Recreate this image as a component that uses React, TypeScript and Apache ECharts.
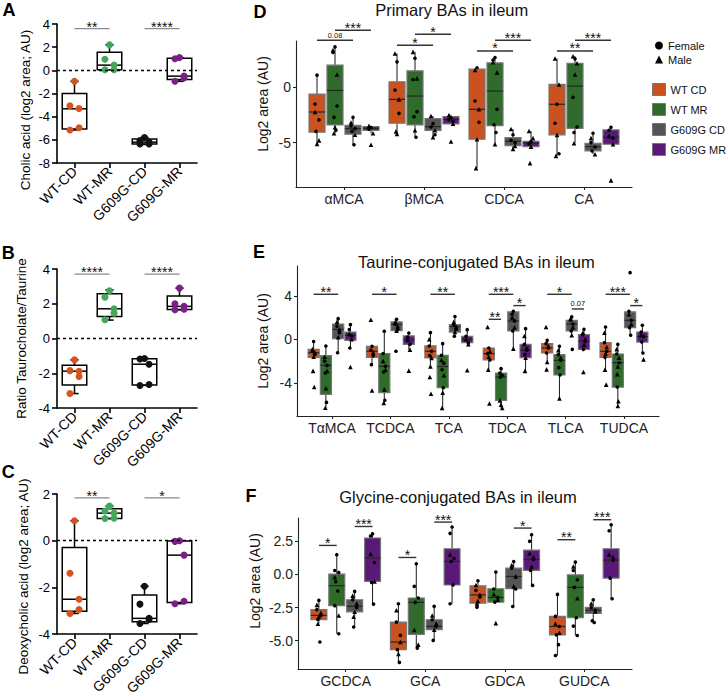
import React, { useEffect, useRef } from 'react';
import * as echarts from 'echarts';

const FONT = "'Liberation Sans', Arial, Helvetica, sans-serif";

// ---------------- Panels A–C ----------------
const abcGroups = ['WT-CD', 'WT-MR', 'G609G-CD', 'G609G-MR'];
const abcColors = ['#d6521f', '#46a65b', '#111111', '#7b1f88'];
const abcJitter = [0, -0.13, 0.13, 0.13, -0.13];

// box stats per group: [min, Q1, median, Q3, max]
const cholicBox = [
  [-5.15, -5.07, -3.32, -2.0, -0.95],
  [0.05, 0.05, 0.45, 1.56, 2.2],
  [-6.4, -6.35, -6.2, -5.93, -5.8],
  [-0.95, -0.8, -0.5, 1.05, 1.1],
];
const cholicPoints = [
  [-0.95, -3.05, -3.3, -4.95, -5.15],
  [2.2, 0.95, 0.45, 0.05, 0.05],
  [-5.8, -6.05, -6.2, -6.35, -6.35],
  [1.1, 1.0, -0.5, -0.65, -0.95],
];
const cholicSig = [[1, 2, 3.6, '**'], [3, 4, 3.6, '****']];

const ratioBox = [
  [-3.17, -2.68, -1.88, -1.54, -1.23],
  [1.06, 1.27, 1.71, 2.58, 2.8],
  [-2.7, -2.68, -1.48, -1.17, -1.15],
  [1.65, 1.67, 1.85, 2.45, 2.9],
];
const ratioPoints = [
  [-1.23, -1.85, -1.88, -2.19, -3.17],
  [2.75, 2.38, 1.71, 1.45, 1.08],
  [-1.15, -1.18, -1.48, -2.65, -2.7],
  [2.9, 2.0, 1.85, 1.68, 1.65],
];
const ratioSig = [[1, 2, 3.7, '****'], [3, 4, 3.7, '****']];

const deoxyBox = [
  [-3.12, -3.03, -2.51, -0.29, 0.85],
  [0.95, 0.95, 1.18, 1.37, 1.48],
  [-3.55, -3.47, -3.33, -2.33, -1.95],
  [-2.7, -2.65, -0.62, -0.01, 0.0],
];
const deoxyPoints = [
  [0.85, -1.4, -2.51, -2.95, -3.12],
  [1.48, 1.27, 1.18, 0.96, 0.95],
  [-1.95, -2.72, -3.33, -3.38, -3.55],
  [0.0, -0.03, -0.62, -2.6, -2.7],
];
const deoxySig = [[1, 2, 1.83, '**'], [3, 4, 1.83, '*']];

// ---------------- Panels D–F ----------------
const groupNames = ['WT CD', 'WT MR', 'G609G CD', 'G609G MR'];
const groupFill = ['#c9521f', '#2f6b2a', '#555555', '#5a1879'];
const jitterPattern = [0, -1, 1, -0.5, 0.5, -1, 1, 0, -0.5, 0.5];

// D: primary BAs  [group][category] = [min, Q1, median, Q3, max]
const primaryCats = ['αMCA', 'βMCA', 'CDCA', 'CA'];
const primaryBox = [
  [[-5.12, -4.07, -2.26, -0.66, 1.04], [-4.22, -3.27, -1.13, 0.45, 2.98], [-7.29, -4.7, -2.02, 1.58, 1.7], [-6.19, -4.31, -1.57, 0.21, 2.53]],
  [[-4.17, -3.42, -0.33, 1.94, 3.57], [-4.52, -3.42, -0.83, 1.43, 3.13], [-5.15, -3.48, -0.38, 2.14, 2.62], [-5.06, -3.72, 0.06, 2.09, 2.74]],
  [[-5.2, -4.25, -3.75, -3.45, -2.74], [-4.52, -3.9, -3.57, -2.86, -2.62], [-5.56, -5.27, -4.88, -4.55, -3.78], [-6.04, -5.74, -5.36, -5.06, -4.17]],
  [[-4.17, -3.9, -3.72, -3.57, -3.5], [-3.33, -3.33, -2.92, -2.68, -2.53], [-5.36, -5.36, -5.06, -4.88, -3.96], [-5.15, -5.15, -4.52, -3.87, -3.63]],
];
const primaryFemale = [
  [[1.04, -1.55, -2.97, -4.0], [2.23, -0.3, -2.38], [1.7, -1.28, -3.18], [-1.57, -3.27, -6.0]],
  [[3.57, 3.07, -1.72, -2.74, -3.9], [2.56, 0.65, -2.23, -2.68, -4.52], [2.62, 2.4, -2.02, -3.4, -4.1], [2.5, -0.95, -3.6, -4.1]],
  [[-2.74, -3.5, -3.75, -4.0, -5.2], [-3.3, -3.6, -4.3], [-4.3, -4.8, -5.0], [-4.17, -5.0, -5.4, -5.74]],
  [[-3.65, -3.8], [-2.8, -2.95, -3.1], [-4.9, -5.1], [-3.63, -3.9, -4.6]],
];
const primaryMale = [
  [[-2.26, -4.8, -5.12], [2.98, -1.13, -4.22, -4.0], [1.5, -2.02, -4.7, -7.29], [2.53, 0.2, -4.31, -6.19]],
  [[3.3, 1.1, -3.63, -4.17], [3.13, 0.75, -3.9], [2.2, 1.29, -5.15], [2.74, 2.1, 1.1, -5.06]],
  [[-3.2, -4.3], [-2.62, -3.9, -4.52], [-3.78, -5.3, -5.56], [-4.6, -6.04]],
  [[-3.5, -4.17, -5.2], [-2.53, -3.3, -4.91], [-3.96, -4.6, -5.36, -6.84], [-4.4, -5.15, -8.39]],
];
// [category, groupA, groupB, y, label]
const primarySig = [
  [1, 0, 2, 4.17, '0.08'], [1, 1, 3, 5.06, '***'],
  [2, 0, 2, 3.72, '*'], [2, 1, 3, 4.7, '*'],
  [3, 0, 2, 3.21, '*'], [3, 1, 3, 4.17, '***'],
  [4, 0, 2, 3.21, '**'], [4, 1, 3, 4.17, '***'],
];

// E: taurine-conjugated BAs
const taurineCats = ['TαMCA', 'TCDCA', 'TCA', 'TDCA', 'TLCA', 'TUDCA'];
const taurineBox = [
  [[-1.7, -1.66, -1.23, -0.92, -0.15], [-2.33, -1.66, -1.1, -0.64, -0.6], [-2.5, -1.72, -1.1, -0.61, 0.61], [-2.79, -1.9, -1.32, -0.8, -0.75], [-2.09, -1.26, -0.8, -0.4, -0.1], [-2.79, -1.66, -1.1, -0.31, 1.13]],
  [[-6.29, -5.06, -2.39, -1.5, -0.61], [-5.86, -4.9, -2.48, -1.32, 0.74], [-6.3, -4.45, -2.5, -1.47, -0.4], [-6.32, -5.61, -3.47, -3.1, -2.7], [-5.43, -3.28, -1.93, -1.41, -0.64], [-6.13, -4.39, -2.15, -1.35, -0.46]],
  [[-1.23, 0.06, 0.92, 1.41, 1.9], [0.75, 0.8, 1.38, 1.6, 1.84], [0.28, 0.67, 1.17, 1.35, 2.1], [-0.86, 0.77, 1.69, 2.52, 2.58], [0.37, 0.77, 1.41, 1.75, 2.06], [0.37, 1.07, 1.75, 2.52, 2.58]],
  [[-0.8, -0.09, 0.37, 0.67, 1.35], [-0.95, -0.46, -0.03, 0.31, 0.58], [-0.46, -0.31, 0.0, 0.28, 0.89], [-2.9, -1.69, -1.0, -0.46, 0.98], [-0.92, -0.92, -0.18, 0.43, 0.92], [-1.26, -0.25, 0.25, 0.67, 1.29]],
];
const taurineFemale = [
  [[-0.2, -1.1, -1.4], [-0.64, -1.0, -1.5, -2.33], [0.61, -0.61, -1.1, -1.5], [-0.8, -1.32, -1.9], [-0.1, -0.4, -0.8, -1.26], [1.13, -0.31, -1.1, -1.66]],
  [[-0.61, -2.0, -2.4, -3.1, -5.8], [0.74, -1.3, -2.48, -3.0, -5.6], [-0.4, -1.47, -2.2, -2.8, -4.45], [-2.7, -3.1, -3.3, -3.47], [-0.64, -1.41, -1.93, -2.6, -3.28], [-0.46, -1.35, -2.15, -4.39]],
  [[1.9, 1.2, 0.6, -1.23], [1.84, 1.38, 0.9, -1.1], [2.1, 1.35, 0.9, 0.28], [2.58, 2.3, 1.69, 0.77], [2.06, 1.75, 1.41, 0.77, -0.92], [6.13, 2.58, 1.75, 1.07, 0.37]],
  [[1.35, 0.9, 0.3, -0.8], [0.58, 0.2, -0.46], [0.89, 0.28, -0.31], [0.98, -0.46, -1.0, -1.4], [0.92, 0.43, -0.18, -0.92], [1.29, 0.67, 0.25, -0.25, -1.26]],
];
const taurineMale = [
  [[-0.9, -1.2, -1.6, -2.9, -4.39], [1.8, -1.2, -4.7], [0.0, -1.72, -2.5, -3.47, -5.0], [1.13, -1.1, -1.6, -2.79, -5.9], [1.13, -0.6, -2.09, -2.76], [0.6, -0.7, -1.3, -2.79, -4.17]],
  [[-1.6, -2.9, -4.5, -6.29], [-2.0, -2.8, -4.6, -5.86], [-1.9, -3.3, -4.9, -6.3], [-5.61, -6.32, -6.0], [-1.0, -1.7, -5.43], [-0.9, -1.7, -2.5, -3.2, -5.7, -6.13]],
  [[1.6, 0.9, 0.2], [1.6, 1.2, 0.8], [1.6, 1.17, 0.67], [2.0, 1.1, -0.86], [1.9, 1.1, 0.37], [2.3, 1.4]],
  [[0.5, 0.0, -2.55], [-0.03, -0.95, -2.88], [0.0, -0.46, -2.85], [0.3, -0.8, -1.69, -2.9], [0.6, 0.0, -0.5, -3.0], [0.4, -1.84]],
];
const taurineSig = [
  [1, 0, 2, 4.14, '**'], [2, 0, 2, 4.14, '*'], [3, 0, 2, 4.14, '**'],
  [4, 0, 2, 4.14, '***'], [4, 0, 1, 1.84, '**'], [4, 2, 3, 3.1, '*'],
  [5, 0, 2, 4.14, '*'], [5, 2, 3, 2.79, '0.07'],
  [6, 0, 2, 4.14, '***'], [6, 2, 3, 3.1, '*'],
];

// F: glycine-conjugated BAs
const glycineCats = ['GCDCA', 'GCA', 'GDCA', 'GUDCA'];
const glycineBox = [
  [[-3.72, -3.42, -3.09, -2.66, -1.96], [-6.64, -5.68, -5.1, -3.6, -2.21], [-2.47, -2.17, -1.54, -0.86, -0.48], [-6.12, -4.56, -3.93, -3.17, -1.51]],
  [[-4.48, -2.36, -0.85, 0.03, 1.49], [-5.56, -4.53, -2.11, -1.78, 0.81], [-2.09, -2.09, -1.74, -1.08, 0.18], [-4.61, -3.27, -0.98, -0.03, 0.93]],
  [[-3.97, -2.82, -2.41, -1.91, -1.28], [-4.98, -4.17, -3.92, -3.42, -2.41], [-2.42, -1.08, -0.15, 0.48, 0.98], [-3.63, -2.95, -2.7, -2.49, -1.91]],
  [[-2.24, -0.53, 1.24, 2.75, 3.07], [-2.21, -0.8, 0.98, 1.94, 3.58], [-0.83, 0.3, 1.13, 1.84, 3.0], [-1.84, -0.28, 1.08, 1.94, 3.75]],
];
const glycineFemale = [
  [[-1.96, -2.66, -3.1, -3.4, -5.1], [-2.21, -3.6, -4.6, -5.68, -6.64], [-0.48, -1.2, -1.7, -2.47], [-1.51, -3.17, -3.93, -4.56, -5.3, -6.12]],
  [[1.49, 0.3, 0.15, -0.55, -1.25, -2.36, -4.48], [0.81, -0.9, -1.78, -2.11, -5.56], [0.18, -1.1, -1.74, -2.09], [0.93, 0.3, -0.4, -0.98, -3.27, -3.9, -4.61]],
  [[-1.28, -1.91, -2.5, -3.97], [-2.41, -3.42, -3.92, -4.98], [0.98, 0.48, -1.1, -2.42], [-1.91, -2.5, -2.7, -3.5, -3.63]],
  [[3.07, 2.9, 0.9, -0.6, -2.24], [3.58, 3.1, 1.2, 0.98, -0.8, -2.21], [3.0, 2.5, 1.13, 0.3, -0.83], [3.75, 3.3, 1.08, -0.28, -1.84]],
];
const glycineMale = [
  [[-2.3, -2.9, -3.2, -3.72], [-2.7, -5.1, -6.0], [-0.8, -1.54, -2.0, -2.2], [-3.7, -4.4]],
  [[-0.2, -3.1], [-4.2, -5.3], [-1.5, -1.9, -3.68], [0.6, -1.8]],
  [[-1.6, -2.2, -2.82, -3.2], [-3.1, -3.7, -4.17], [0.7, -0.15, -0.9], [-2.2, -2.8]],
  [[1.55, -0.53], [1.5], [1.6, 1.3, 0.6], [1.5, 1.3]],
];
const glycineSig = [
  [1, 0, 1, 2.19, '*'], [1, 2, 3, 3.62, '***'],
  [2, 0, 1, 1.28, '*'], [2, 2, 3, 3.95, '***'],
  [3, 2, 3, 3.5, '*'],
  [4, 0, 1, 2.62, '**'], [4, 2, 3, 4.13, '***'],
];

// ---------------- helpers ----------------
function boxRenderer(bw: number, st: any) {
  return function (params: any, api: any) {
    const x = api.value(0);
    const lo = api.coord([x, api.value(1)]);
    const q1 = api.coord([x, api.value(2)]);
    const md = api.coord([x, api.value(3)]);
    const q3 = api.coord([x, api.value(4)]);
    const hi = api.coord([x, api.value(5)]);
    const w = api.size([bw, 0])[0];
    const cx = md[0];
    const h = w / 2;
    const ln = (x1: number, y1: number, x2: number, y2: number, stroke: string, lw: number) => ({
      type: 'line', shape: { x1, y1, x2, y2 }, style: { stroke, lineWidth: lw },
    });
    const ch: any[] = [
      ln(cx, hi[1], cx, q3[1], st.whisker, st.wlw),
      ln(cx, q1[1], cx, lo[1], st.whisker, st.wlw),
      {
        type: 'rect',
        shape: { x: cx - h, y: q3[1], width: w, height: Math.max(q1[1] - q3[1], 0.5) },
        style: { fill: st.fill, stroke: st.stroke, lineWidth: st.lw },
      },
      ln(cx - h, md[1], cx + h, md[1], st.median, st.mlw),
    ];
    if (st.cap) {
      const c = (w * st.cap) / 2;
      ch.push(ln(cx - c, hi[1], cx + c, hi[1], st.whisker, st.wlw));
      ch.push(ln(cx - c, lo[1], cx + c, lo[1], st.whisker, st.wlw));
    }
    return { type: 'group', children: ch };
  };
}

function sigSeries(k: number, rows: number[][], labels: string[], st: any) {
  return {
    type: 'custom', xAxisIndex: k, yAxisIndex: k, clip: false, silent: true, z: 6,
    encode: { x: [0, 1], y: 2 },
    data: rows,
    renderItem: (params: any, api: any) => {
      const y = api.value(2);
      const a = api.coord([api.value(0), y]);
      const b = api.coord([api.value(1), y]);
      const lab = String(labels[params.dataIndex]);
      const star = lab.charAt(0) === '*';
      return {
        type: 'group',
        children: [
          { type: 'line', shape: { x1: a[0], y1: a[1], x2: b[0], y2: b[1] }, style: { stroke: st.stroke, lineWidth: st.lw } },
          {
            type: 'text', x: (a[0] + b[0]) / 2, y: star ? a[1] - st.lift : a[1] - 1,
            style: {
              text: lab, fill: '#111', fontFamily: FONT, fontSize: star ? st.size : 7.5,
              align: 'center', verticalAlign: star ? 'middle' : 'bottom',
            },
          },
        ],
      };
    },
  };
}

function abcSeries(k: number, box: number[][], pts: number[][], sig: any[]) {
  const s: any[] = [];
  s.push({
    type: 'custom', xAxisIndex: k, yAxisIndex: k, z: 2, silent: true,
    encode: { x: 0, y: [1, 2, 3, 4, 5] },
    renderItem: boxRenderer(0.7, { fill: 'none', stroke: '#000', lw: 1.5, whisker: '#000', wlw: 1.5, median: '#000', mlw: 1.5, cap: 0.34 }),
    data: box.map((b, g) => [g + 1, ...b]),
  });
  pts.forEach((vals, g) => {
    s.push({
      type: 'scatter', name: abcGroups[g], xAxisIndex: k, yAxisIndex: k, z: 3, silent: true,
      symbol: 'circle', symbolSize: 7, itemStyle: { color: abcColors[g], opacity: 1 },
      data: vals.map((v, i) => [g + 1 + abcJitter[i % abcJitter.length], v]),
      markLine: g === 0 ? {
        silent: true, symbol: ['none', 'none'], label: { show: false },
        lineStyle: { color: '#000', type: [3, 3], width: 1.3 },
        data: [{ yAxis: 0 }],
      } : undefined,
    });
  });
  s.push(sigSeries(k, sig.map((r) => [r[0], r[1], r[2]]), sig.map((r) => r[3]), { stroke: '#8a8a8a', lw: 1.3, size: 14, lift: 2 }));
  return s;
}

function defSeries(k: number, box: number[][][], fem: number[][][], male: number[][][], sig: any[], dodge: number, bw: number, jit: number) {
  const s: any[] = [];
  box.forEach((catBoxes, g) => {
    const off = (g - 1.5) * dodge;
    s.push({
      type: 'custom', name: groupNames[g], xAxisIndex: k, yAxisIndex: k, z: 2, silent: true,
      itemStyle: { color: groupFill[g] },
      encode: { x: 0, y: [1, 2, 3, 4, 5] },
      renderItem: boxRenderer(bw, { fill: groupFill[g], stroke: '#767676', lw: 1.2, whisker: '#1a1a1a', wlw: 1, median: '#262626', mlw: 1.2, cap: 0 }),
      data: catBoxes.map((b, c) => [c + 1 + off, ...b]),
    });
  });
  const L = jitterPattern.length;
  const femData: number[][] = [];
  const maleData: number[][] = [];
  fem.forEach((cats, g) => cats.forEach((vals, c) => vals.forEach((v, i) => {
    femData.push([c + 1 + (g - 1.5) * dodge + jitterPattern[i % L] * jit, v]);
  })));
  male.forEach((cats, g) => cats.forEach((vals, c) => vals.forEach((v, i) => {
    maleData.push([c + 1 + (g - 1.5) * dodge + jitterPattern[(i + 5) % L] * jit, v]);
  })));
  s.push({ type: 'scatter', name: 'Female', xAxisIndex: k, yAxisIndex: k, z: 3, silent: true, symbol: 'circle', symbolSize: 3.6, itemStyle: { color: '#000', opacity: 1 }, data: femData });
  s.push({ type: 'scatter', name: 'Male', xAxisIndex: k, yAxisIndex: k, z: 3, silent: true, symbol: 'triangle', symbolSize: 4.6, itemStyle: { color: '#000', opacity: 1 }, data: maleData });
  s.push(sigSeries(
    k,
    sig.map((r) => [r[0] + (r[1] - 1.5) * dodge, r[0] + (r[2] - 1.5) * dodge, r[3]]),
    sig.map((r) => r[4]),
    { stroke: '#333', lw: 1.4, size: 14, lift: 2.5 },
  ));
  return s;
}

function abcX(k: number) {
  const vals = abcGroups.map((_, i) => i + 1);
  return {
    gridIndex: k, type: 'value', min: 0.5, max: 4.5,
    axisLine: { show: true, onZero: false, lineStyle: { color: '#000', width: 1.6 } },
    axisTick: { show: true, customValues: vals, length: 5, lineStyle: { color: '#000', width: 1.6 } },
    axisLabel: { show: true, customValues: vals, formatter: (v: number) => abcGroups[Math.round(v) - 1] || '', rotate: 45, margin: 6, fontSize: 14, color: '#000', fontFamily: FONT },
    splitLine: { show: false },
  };
}

function abcY(k: number, min: number, max: number, name: string, gap: number, pad: number[]) {
  return {
    gridIndex: k, type: 'value', min, max, interval: 2,
    axisLine: { show: true, onZero: false, lineStyle: { color: '#000', width: 1.6 } },
    axisTick: { show: true, length: 5, lineStyle: { color: '#000', width: 1.6 } },
    axisLabel: { fontSize: 13, color: '#000', margin: 7, fontFamily: FONT },
    splitLine: { show: false },
    name, nameLocation: 'middle', nameGap: gap,
    nameTextStyle: { fontSize: 13.5, color: '#000', fontFamily: FONT, padding: pad },
  };
}

function defX(k: number, cats: string[]) {
  const vals = cats.map((_, i) => i + 1);
  return {
    gridIndex: k, type: 'value', min: 0.4, max: cats.length + 0.6,
    axisLine: { show: true, onZero: false, lineStyle: { color: '#222', width: 1.1 } },
    axisTick: { show: true, customValues: vals, length: 3, lineStyle: { color: '#222', width: 1.1 } },
    axisLabel: { show: true, customValues: vals, formatter: (v: number) => cats[Math.round(v) - 1] || '', fontSize: 14, color: '#222', margin: 5, fontFamily: FONT },
    splitLine: { show: false },
  };
}

function defY(k: number, min: number, max: number, ticks: number[], gap: number, pad: number[], decimals: number) {
  return {
    gridIndex: k, type: 'value', min, max,
    axisLine: { show: true, onZero: false, lineStyle: { color: '#222', width: 1.1 } },
    axisTick: { show: true, customValues: ticks, length: 3, lineStyle: { color: '#222', width: 1.1 } },
    axisLabel: { show: true, customValues: ticks, formatter: (v: number) => v.toFixed(decimals), fontSize: 14, color: '#222', margin: 5, fontFamily: FONT },
    splitLine: { show: false },
    name: 'Log2 area (AU)', nameLocation: 'middle', nameGap: gap,
    nameTextStyle: { fontSize: 14, color: '#111', fontFamily: FONT, padding: pad },
  };
}

const gridBase = { containLabel: false, outerBoundsMode: 'none' };

const option: any = {
  animation: false,
  backgroundColor: '#fff',
  textStyle: { fontFamily: FONT },
  title: [
    { text: 'Primary BAs in ileum', left: 451.7, top: 1.5, textAlign: 'center', textVerticalAlign: 'top', padding: 0, textStyle: { fontSize: 16.5, fontWeight: 'normal', color: '#111', fontFamily: FONT } },
    { text: 'Taurine-conjugated BAs in ileum', left: 476.4, top: 253, textAlign: 'center', textVerticalAlign: 'top', padding: 0, textStyle: { fontSize: 16.5, fontWeight: 'normal', color: '#111', fontFamily: FONT } },
    { text: 'Glycine-conjugated BAs in ileum', left: 458, top: 488.5, textAlign: 'center', textVerticalAlign: 'top', padding: 0, textStyle: { fontSize: 16.5, fontWeight: 'normal', color: '#111', fontFamily: FONT } },
  ],
  legend: [
    {
      data: ['Female', 'Male'], orient: 'vertical', left: 655, top: 40, padding: 0,
      itemWidth: 8, itemHeight: 8, itemGap: 3, selectedMode: false,
      textStyle: { fontSize: 11, color: '#111', fontFamily: FONT },
    },
    {
      data: groupNames.map((n, g) => ({ name: n, icon: 'rect', itemStyle: { color: groupFill[g], borderColor: '#767676', borderWidth: 1 } })),
      orient: 'vertical', left: 652, top: 83, padding: 0,
      itemWidth: 13, itemHeight: 12, itemGap: 7, selectedMode: false,
      textStyle: { fontSize: 11, color: '#111', fontFamily: FONT },
    },
  ],
  grid: [
    { ...gridBase, left: 57, top: 24, width: 140, height: 139 },
    { ...gridBase, left: 57, top: 269, width: 140, height: 139 },
    { ...gridBase, left: 57, top: 494, width: 140, height: 140 },
    { ...gridBase, left: 296, top: 41, width: 336, height: 146 },
    { ...gridBase, left: 297, top: 266, width: 362, height: 150 },
    { ...gridBase, left: 298, top: 518, width: 334, height: 151 },
  ],
  xAxis: [
    abcX(0), abcX(1), abcX(2),
    defX(3, primaryCats), defX(4, taurineCats), defX(5, glycineCats),
  ],
  yAxis: [
    abcY(0, -8, 4, 'Cholic acid (log2 area; AU)', 25, [0, 33, 0, 0]),
    abcY(1, -4, 4, 'Ratio Taurocholate/Taurine', 28.5, [0, 0, 0, 0]),
    abcY(2, -4, 2, 'Deoxycholic acid (log2 area; AU)', 27, [0, 25, 0, 0]),
    defY(3, -8.98, 4.1, [-5, 0], 26.3, [0, 0, 0, 20], 0),
    defY(4, -7.05, 6.74, [-4, 0, 4], 26.7, [0, 0, 0, 0], 0),
    defY(5, -7.14, 4.26, [-5, -2.5, 0, 2.5], 35.7, [0, 0, 0, 25], 1),
  ],
  graphic: [
    ['A', 9, 10], ['B', 8.3, 252.5], ['C', 8.3, 472], ['D', 260, 12], ['E', 259, 252], ['F', 251, 496],
  ].map(([t, x, y]) => ({
    type: 'text', x, y, silent: true,
    style: { text: t, fontSize: 18, fontWeight: 'bold', fill: '#000', fontFamily: FONT, align: 'center', verticalAlign: 'middle' },
  })),
  series: [
    ...abcSeries(0, cholicBox, cholicPoints, cholicSig),
    ...abcSeries(1, ratioBox, ratioPoints, ratioSig),
    ...abcSeries(2, deoxyBox, deoxyPoints, deoxySig),
    ...defSeries(3, primaryBox, primaryFemale, primaryMale, primarySig, 0.225, 0.2, 0.025),
    ...defSeries(4, taurineBox, taurineFemale, taurineMale, taurineSig, 0.21, 0.19, 0.02),
    ...defSeries(5, glycineBox, glycineFemale, glycineMale, glycineSig, 0.225, 0.2, 0.025),
  ],
};

export default function App() {
  const ref = useRef<HTMLDivElement>(null);
  useEffect(() => {
    if (!ref.current) return;
    const chart = echarts.init(ref.current, null, { renderer: 'svg' });
    chart.setOption(option);
    return () => chart.dispose();
  }, []);
  return (
    <div
      ref={ref}
      style={{ position: 'absolute', left: 0, top: 0, width: 727, height: 695, background: '#fff' }}
    />
  );
}
